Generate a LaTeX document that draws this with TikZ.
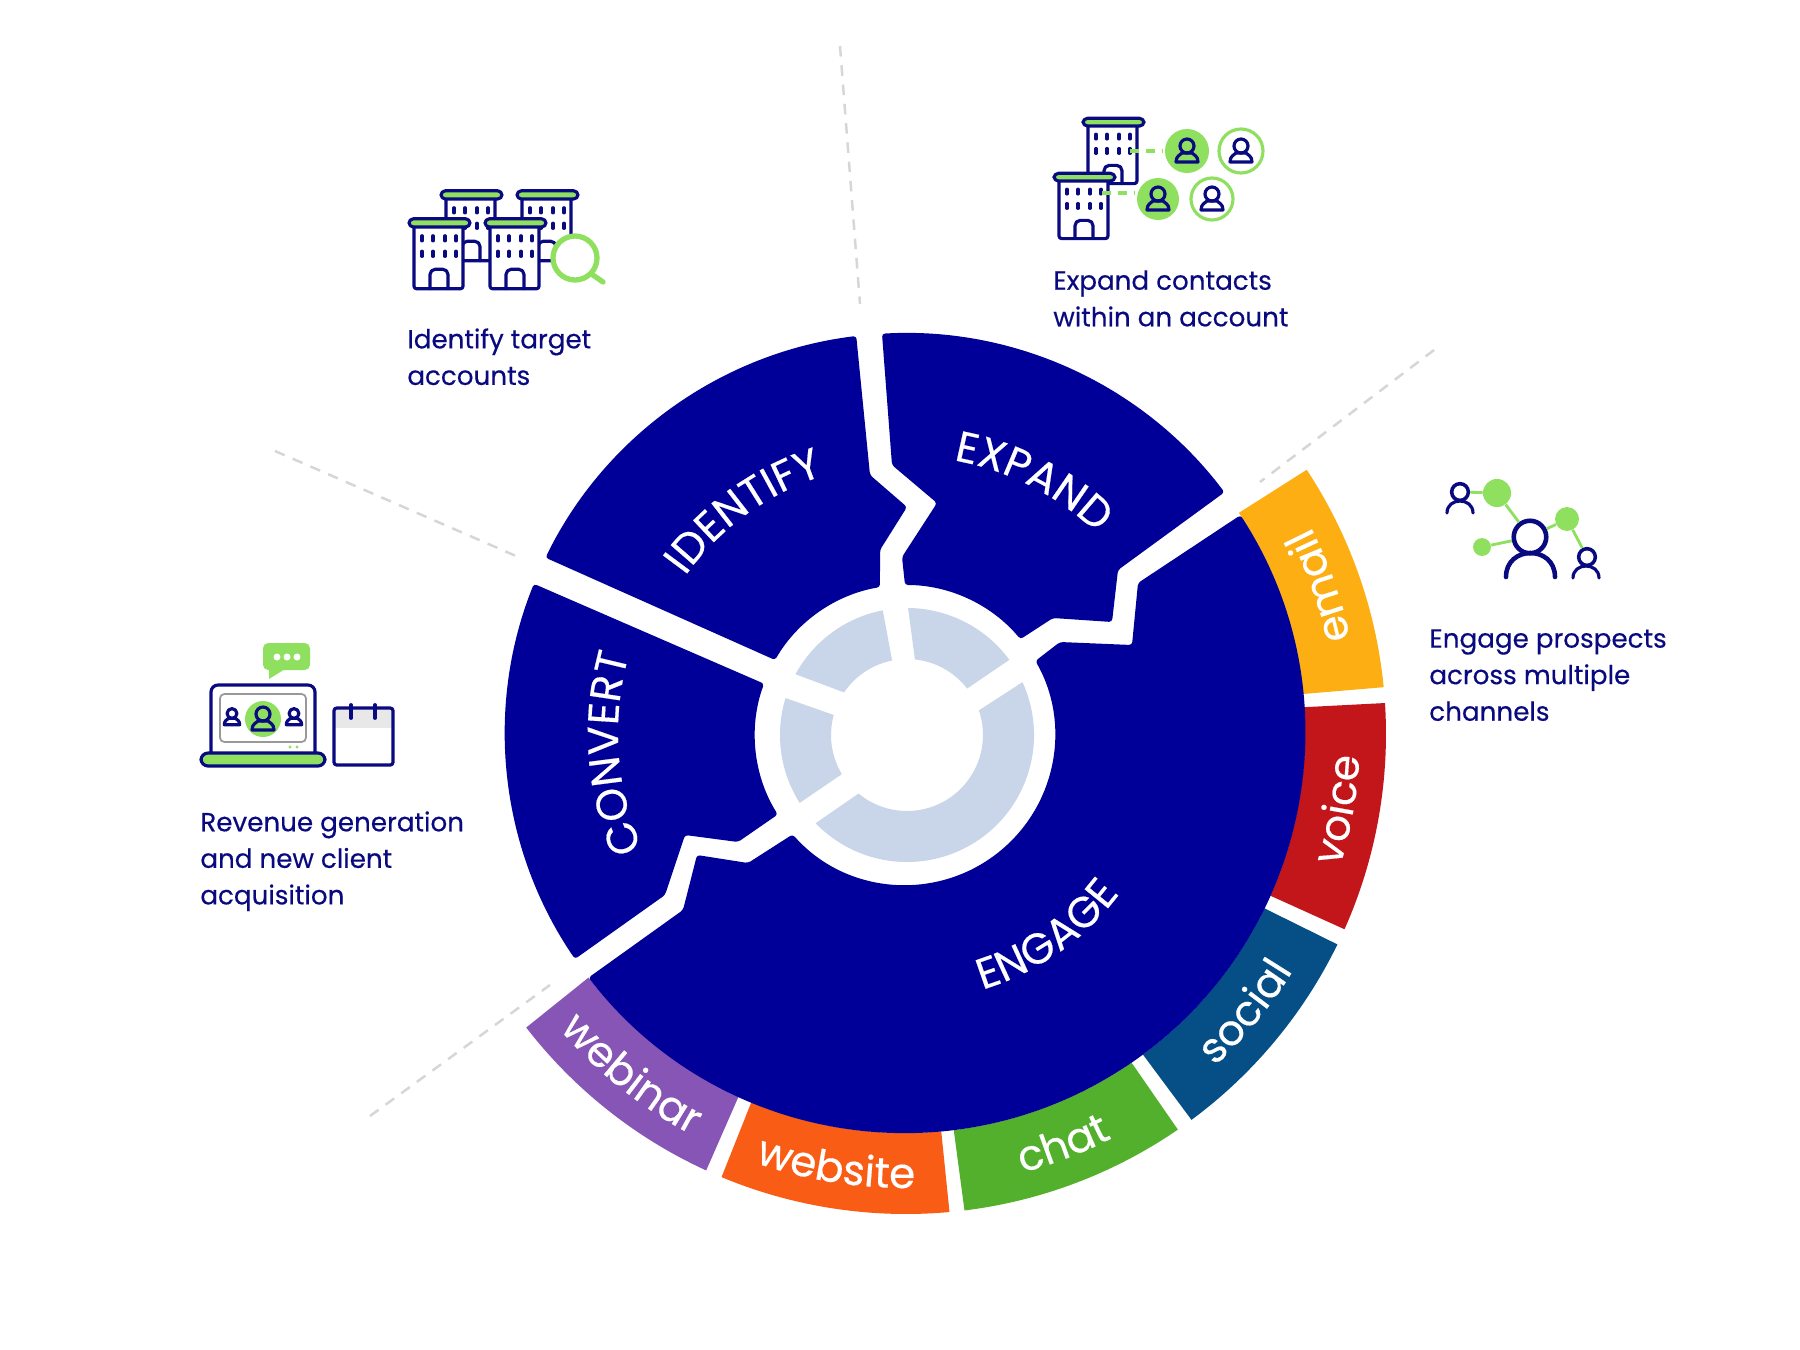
\documentclass[tikz,border=0pt]{standalone}
\usepackage{fontspec}
\setmainfont{Poppins}[FakeBold=0.35]
\usetikzlibrary{decorations.text}

\definecolor{wheelblue}{HTML}{000099}
\definecolor{textnavy}{HTML}{0A0A80}
\definecolor{hubgrey}{HTML}{C9D5E8}
\definecolor{icongreen}{HTML}{90E060}
\definecolor{dashgrey}{HTML}{D6D6D6}
\definecolor{emailcol}{HTML}{FCAE12}
\definecolor{voicecol}{HTML}{C3161A}
\definecolor{socialcol}{HTML}{054F86}
\definecolor{chatcol}{HTML}{53B02C}
\definecolor{websitecol}{HTML}{F95C14}
\definecolor{webinarcol}{HTML}{8755B5}

\newcommand{\stagefont}{\fontsize{24.5}{24.5}\selectfont}
\newcommand{\bandfont}{\fontsize{24}{24}\selectfont}

\tikzset{
	wedge/.style={fill=wheelblue, rounded corners=1.7pt},
	hubpart/.style={fill=hubgrey},
	sector/.style={dashgrey, line width=1.4pt, dash pattern=on 6pt off 5pt},
	caption/.style={anchor=north west, inner sep=0pt, align=left, text=textnavy,
		font=\fontsize{14.9}{20.8}\selectfont},
	iconline/.style={draw=textnavy, line width=1.8pt, line cap=round, line join=round},
	greenline/.style={draw=icongreen, line width=1.6pt},
	dotnode/.style={circle, inner sep=0pt, fill=icongreen},
	headnode/.style={circle, inner sep=0pt, draw=textnavy, line width=2pt},
	building/.pic={
		\draw[iconline, fill=white, rounded corners=1.5pt] (0,0) -- (0,60) -- (49,60) -- (49,0);
		\draw[iconline, fill=icongreen, rounded corners=2.5pt] (-5,-8) rectangle (56,0);
		\draw[iconline, rounded corners=3pt] (16,60) -- (16,41) -- (34,41) -- (34,60);
		\foreach \wx in {8,19,31,42}
		\foreach \wy in {11,26}
		\draw[iconline, line width=1.8pt] (\wx,\wy-2.5) -- (\wx,\wy+2.5);
	},
	contact/.pic={
		\draw[iconline] (0,-5) circle[radius=7];
		\draw[iconline] (-11,11) .. controls (-11,5) and (-7,4) .. (-5,2) -- (5,2) .. controls (7,4) and (11,5) .. (11,11) -- cycle;
	}
}

% one coloured band of the outer ring, with its label
\newcommand{\channelband}[5]{
	\fill[#1] ([shift={(#2:400)}]CI) arc[start angle=#2, end angle=#3, radius=400]
		-- ([shift={(#3:480)}]CO) arc[start angle=#3, end angle=#2, radius=480] -- cycle;
	\path[decorate, decoration={text along path, text color=white, text align=center,
		text={|\bandfont|#4}}]
		([shift={(#5+35:455)}]CI) arc[start angle=#5+35, end angle=#5-35, radius=455];
}

% label on an arc: text, radius, first angle, last angle
\newcommand{\stagelabel}[4]{
	\path[decorate, decoration={text along path, text color=white, text align=center,
		text={|\stagefont|#1}}]
		([shift={(#3:#2)}]CI) arc[start angle=#3, end angle=#4, radius=#2];
}

\newcommand{\hubpart}[4]{
	\fill[hubpart] ([shift={(#1:127)}]HC) arc[start angle=#1, end angle=#2, radius=127]
		-- ([shift={(#3:76)}]HC) arc[start angle=#3, end angle=#4, radius=76] -- cycle;
}

\begin{document}
\begin{tikzpicture}[x=0.02cm, y=-0.02cm]
	\path[use as bounding box, fill=white] (0,0) rectangle (1800,1350);

	% Centres of the circles
	\coordinate (CI) at (905,733);
	\coordinate (CO) at (906,734);
	\coordinate (WC) at (905,735);
	\coordinate (HC) at (907,735);

	% Dashed sector lines
	\coordinate (topA) at (840,46);
	\coordinate (topB) at (860,304);
	\coordinate (rightA) at (1434,350);
	\coordinate (rightB) at (1260,482);
	\coordinate (leftA) at (275,451);
	\coordinate (leftB) at (516,556);
	\coordinate (lowA) at (370,1116);
	\coordinate (lowB) at (550,985);
	\draw[sector] (topA) -- (topB);
	\draw[sector] (rightA) -- (rightB);
	\draw[sector] (leftA) -- (leftB);
	\draw[sector] (lowA) -- (lowB);

	% Channel bands
	\channelband{emailcol}{-33.4}{-5.6}{email}{-19.5}
	\channelband{voicecol}{-3.7}{24}{voice}{10}
	\channelband{socialcol}{26}{53.5}{social}{39.3}
	\channelband{chatcol}{55.5}{83}{chat}{69}
	\channelband{websitecol}{84.8}{112.6}{website}{99}
	\channelband{webinarcol}{114.6}{142.3}{webinar}{128.7}

	% Four stages
	\fill[wedge] ([shift={(266.7:400)}]CI) arc[start angle=266.7, end angle=323, radius=400]
		-- (1118,570) -- (1112,622) -- (1053,618)
		-- ([shift={(-39.7:150)}]WC) arc[start angle=-39.7, end angle=-90, radius=150]
		-- (902,557) -- (937,503) -- (892,465) -- cycle;
	\fill[wedge] ([shift={(206:400)}]CI) arc[start angle=206, end angle=263, radius=400]
		-- (870,475) -- (907,507) -- (880,550)
		-- ([shift={(260.4:150)}]WC) arc[start angle=260.4, end angle=210, radius=150] -- cycle;
	\fill[wedge] ([shift={(145.6:400)}]CI) arc[start angle=145.6, end angle=201.9, radius=400]
		-- ([shift={(200:150)}]WC) arc[start angle=200, end angle=148, radius=150]
		-- (738,842) -- (685,835) -- (665,895) -- cycle;
	\fill[wedge] ([shift={(-33:400)}]CI) arc[start angle=-33, end angle=142.3, radius=400]
		-- (683,910) -- (697,855) -- (748,863)
		-- ([shift={(138.5:150)}]WC) arc[start angle=138.5, end angle=-29.6, radius=150]
		-- (1060,642) -- (1132,645) -- (1138,583) -- cycle;

	% Hub
	\hubpart{208.6}{259}{258.7}{214.1}
	\hubpart{270.5}{323.7}{322.3}{276}
	\hubpart{-24.6}{136}{129.6}{-18.9}
	\hubpart{147.7}{196.9}{195.3}{149}

	% Stage labels
	\stagelabel{CONVERT}{287}{139}{213}
	\stagelabel{IDENTIFY}{270}{195}{273}
	\stagelabel{EXPAND}{277}{257}{337}
	\stagelabel{ENGAGE}{268}{95}{15}

	% Captions
	\node[caption] (identifytext) at (407,328) {Identify target\\accounts};
	\node[caption] (expandtext) at (1053,270) {Expand contacts\\within an account};
	\node[caption] (engagetext) at (1429,629) {Engage prospects\\across multiple\\channels};
	\node[caption] (converttext) at (200,811) {Revenue generation\\and new client\\acquisition};

	% Identify icon
	\pic[yscale=1.03] at (446,199) {building};
	\pic[yscale=1.03] at (522,199) {building};
	\pic[yscale=1.03] at (414,227) {building};
	\pic[yscale=1.03] at (490,227) {building};
	\draw[icongreen, line width=3pt, line cap=round] (590,273) -- (603,282);
	\draw[icongreen, line width=3pt, fill=white] (575,258) circle[radius=22];

	% Expand icon
	\pic[yscale=.96] at (1088,126) {building};
	\pic[yscale=.96] at (1059,181) {building};
	\draw[icongreen, line width=2pt, dash pattern=on 5pt off 4pt] (1130,151) -- (1163,151);
	\draw[icongreen, line width=2pt, dash pattern=on 5pt off 4pt] (1102,193) -- (1135,193);
	\fill[icongreen] (1187,151) circle[radius=22];
	\fill[icongreen] (1158,199) circle[radius=21];
	\draw[icongreen, line width=1.8pt] (1241,151) circle[radius=22];
	\draw[icongreen, line width=1.8pt] (1212,199) circle[radius=21];
	\foreach \p in {(1187,151),(1241,151),(1158,199),(1212,199)}
	\pic at \p {contact};

	% Engage icon
	\node[dotnode, minimum size=16.0pt] (dotA) at (1497,493) {};
	\node[dotnode, minimum size=13.6pt] (dotB) at (1567,519) {};
	\node[dotnode, minimum size=10.2pt] (dotC) at (1482,547) {};
	\node[headnode, minimum size=18.5pt, line width=2.6pt] (headBig) at (1530,537) {};
	\node[headnode, minimum size=9.5pt] (headLeft) at (1460,492) {};
	\node[headnode, minimum size=9.5pt] (headRight) at (1587,557) {};
	\draw[greenline] (headLeft) -- (dotA);
	\draw[greenline] (dotA) -- (headBig);
	\draw[greenline] (dotB) -- (headBig);
	\draw[greenline] (dotB) -- (headRight);
	\draw[greenline] (dotC) -- (headBig);
	\draw[iconline, line width=2.6pt] (1506,577) .. controls (1506,545) and (1555,545) .. (1555,577);
	\draw[iconline] (1447,513) .. controls (1447,497) and (1473,497) .. (1473,513);
	\draw[iconline] (1573,578) .. controls (1573,562) and (1599,562) .. (1599,578);

	% Convert icon
	\fill[icongreen, rounded corners=3pt] (263,643) rectangle (310,670);
	\fill[icongreen] (269,668) -- (269,679) -- (285,669) -- cycle;
	\foreach \x in {277,287,297}
	\fill[white] (\x,657) circle[radius=3.5];
	\draw[iconline, rounded corners=4pt] (211,753) -- (211,685) -- (315,685) -- (315,753);
	\draw[black!40, line width=1pt, rounded corners=2.5pt] (220,694) rectangle (306,742);
	\fill[icongreen] (263,719) circle[radius=18];
	\pic at (263,719) {contact};
	\pic[scale=.7] at (232,717) {contact};
	\pic[scale=.7] at (294,717) {contact};
	\fill[icongreen] (290,747) circle[radius=1.6];
	\fill[icongreen] (297,747) circle[radius=1.6];
	\draw[iconline, fill=icongreen, rounded corners=4pt] (201,753) rectangle (325,766);
	\fill[black!9] (334,708) rectangle (393,728);
	\draw[iconline, rounded corners=1.5pt] (334,708) rectangle (393,765);
	\draw[iconline, line width=2.2pt] (351,705) -- (351,718);
	\draw[iconline, line width=2.2pt] (375,705) -- (375,718);
\end{tikzpicture}
\end{document}
